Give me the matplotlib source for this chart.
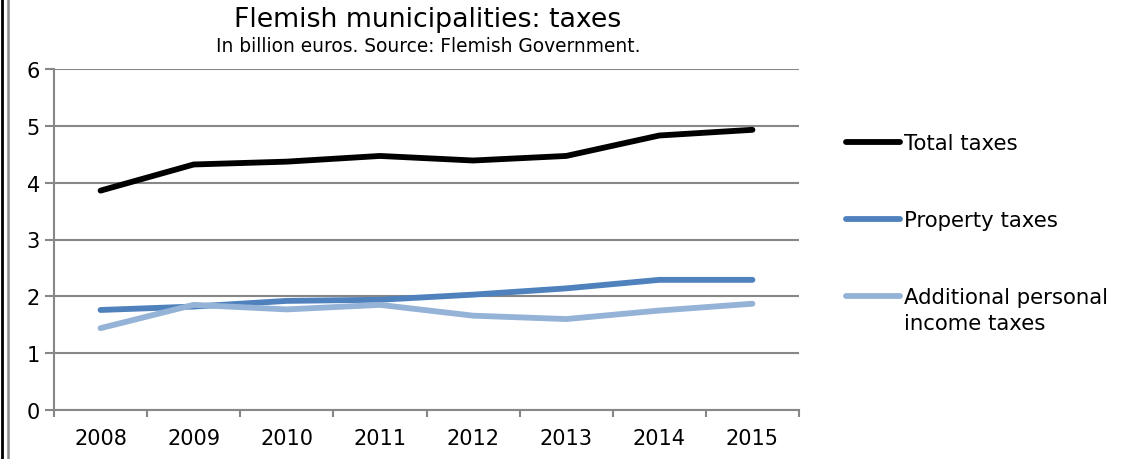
import matplotlib
matplotlib.use("Agg")
import matplotlib.pyplot as plt
from matplotlib.lines import Line2D

years = ["2008", "2009", "2010", "2011", "2012", "2013", "2014", "2015"]
total_taxes = [3.86, 4.32, 4.37, 4.47, 4.39, 4.47, 4.83, 4.93]
property_taxes = [1.76, 1.82, 1.92, 1.94, 2.03, 2.14, 2.29, 2.29]
additional_income_taxes = [1.44, 1.85, 1.77, 1.85, 1.66, 1.60, 1.75, 1.87]
series_labels = ["Total taxes", "Property taxes", "Additional personal\nincome taxes"]
yticks = [0, 1, 2, 3, 4, 5, 6]

colors = ["#000000", "#4F81BD", "#95B3D7"]
grid_c = "#878787"

W, H = 1138, 460
fig = plt.figure(figsize=(W / 100, H / 100), dpi=100)
left, right, top, bottom = 54, 799, 70, 411
ax = fig.add_axes([left / W, 1 - bottom / H, (right - left) / W, (bottom - top) / H])

x = list(range(len(years)))
for vals, c in zip([total_taxes, property_taxes, additional_income_taxes], colors):
    ax.plot(x, vals, color=c, lw=4.2, solid_capstyle="round", solid_joinstyle="round", zorder=3)

ax.set_xlim(-0.5, len(years) - 0.5)
ax.set_ylim(0, 6)
ax.set_yticks(yticks)
ax.set_yticklabels([str(v) for v in yticks])
ax.set_xticks(x)
ax.set_xticklabels(years)
ax.set_xticks([i - 0.5 for i in range(len(years) + 1)], minor=True)
ax.tick_params(axis="x", which="major", length=0, labelsize=15, pad=13)
ax.tick_params(axis="x", which="minor", length=5, width=1.5, color=grid_c, direction="out")
ax.tick_params(axis="y", length=6.5, width=1.5, color=grid_c, labelsize=15, pad=8.5)
for t in ax.get_yticklabels():
    t.set_horizontalalignment("center")
ax.grid(axis="y", color=grid_c, lw=1.5, zorder=1)
for s in ["top", "right"]:
    ax.spines[s].set_visible(False)
for s in ["left", "bottom"]:
    ax.spines[s].set_color(grid_c)
    ax.spines[s].set_linewidth(1.5)

fig.text(428 / W, 1 - 20 / H, "Flemish municipalities: taxes", ha="center", va="center", fontsize=19.3)
fig.text(428 / W, 1 - 47 / H, "In billion euros. Source: Flemish Government.", ha="center", va="center", fontsize=13.4)

leg_y = [143, 220, 297]
for yy, lab, c in zip(leg_y, series_labels, colors):
    fig.add_artist(Line2D([846 / W, 900 / W], [1 - yy / H, 1 - yy / H], color=c, lw=4.2,
                          solid_capstyle="round", transform=fig.transFigure))
    for k, line in enumerate(lab.split("\n")):
        fig.text(904 / W, 1 - (yy + 1 + 26 * k) / H, line, ha="left", va="center", fontsize=15.3)

fig.add_artist(Line2D([1.5 / W, 1.5 / W], [0, 1], color="#000000", lw=2, transform=fig.transFigure))
fig.add_artist(Line2D([8 / W, 8 / W], [0, 1], color="#8a8a8a", lw=1.8, transform=fig.transFigure))

fig.savefig("out.png", dpi=100)
